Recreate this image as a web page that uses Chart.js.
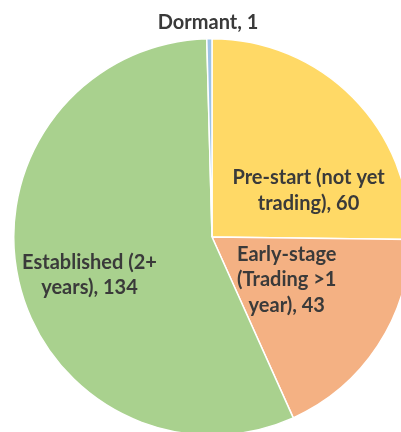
<!DOCTYPE html>
<html>
<head>
<meta charset="utf-8">
<script src="https://cdn.jsdelivr.net/npm/chart.js@4"></script>
<style>
html, body { margin: 0; padding: 0; background: #fff; }
body { width: 401px; height: 432px; overflow: hidden; position: relative; }
#wrap { position: absolute; left: 0; top: 0; width: 411px; height: 436px; }
</style>
</head>
<body>
<div id="wrap"><canvas id="pie"></canvas></div>
<script>
// chart data
var stageLabels = ['Pre-start (not yet trading)', 'Early-stage (Trading >1 year)', 'Established (2+ years)', 'Dormant'];
var stageCounts = [60, 43, 134, 1];
var stageColours = ['#FFD966', '#F4B183', '#A9D18E', '#9DC3E6'];
// label text as wrapped in the picture
var labelLines = [
	['Pre-start (not yet', 'trading), 60'],
	['Early-stage', '(Trading >1', 'year), 43'],
	['Established (2+', 'years), 134'],
	['Dormant, 1']
];

/*-------------------------------------------------------------------------*/
// Label plugin: text placed relative to pie centre, in units of radius
/*-------------------------------------------------------------------------*/
var labelSpots = [[0.487, -0.234], [0.377, 0.216], [-0.618, 0.193], [-0.02, -1.08]];

var pieLabels = {
	id: 'pieLabels',
	afterDatasetsDraw: function(chart) {
		var ctx = chart.ctx;
		var arcs = chart.getDatasetMeta(0).data;
		ctx.save();
		ctx.font = 'bold 20px Lato';
		ctx.fillStyle = '#3a3a3a';
		ctx.textAlign = 'center';
		ctx.textBaseline = 'middle';
		arcs.forEach(function(arc, i) {
			var r = arc.outerRadius;
			var cx = arc.x + labelSpots[i][0] * r;
			var cy = arc.y + labelSpots[i][1] * r;
			var lines = labelLines[i];
			var lh = 25.5;
			var y0 = cy - (lines.length - 1) * lh / 2;
			lines.forEach(function(t, j) {
				ctx.fillText(t, cx, y0 + j * lh);
			});
		});
		ctx.restore();
	}
};

new Chart(document.getElementById('pie'), {
	type: 'pie',
	data: {
		labels: stageLabels,
		datasets: [{
			data: stageCounts,
			backgroundColor: stageColours,
			borderColor: '#ffffff',
			borderWidth: 1.5
		}]
	},
	options: {
		responsive: true,
		maintainAspectRatio: false,
		animation: false,
		layout: { padding: { left: 13, top: 38, right: 0, bottom: 0 } },
		plugins: {
			legend: { display: false },
			tooltip: { enabled: false }
		}
	},
	plugins: [pieLabels]
});
</script>
</body>
</html>
